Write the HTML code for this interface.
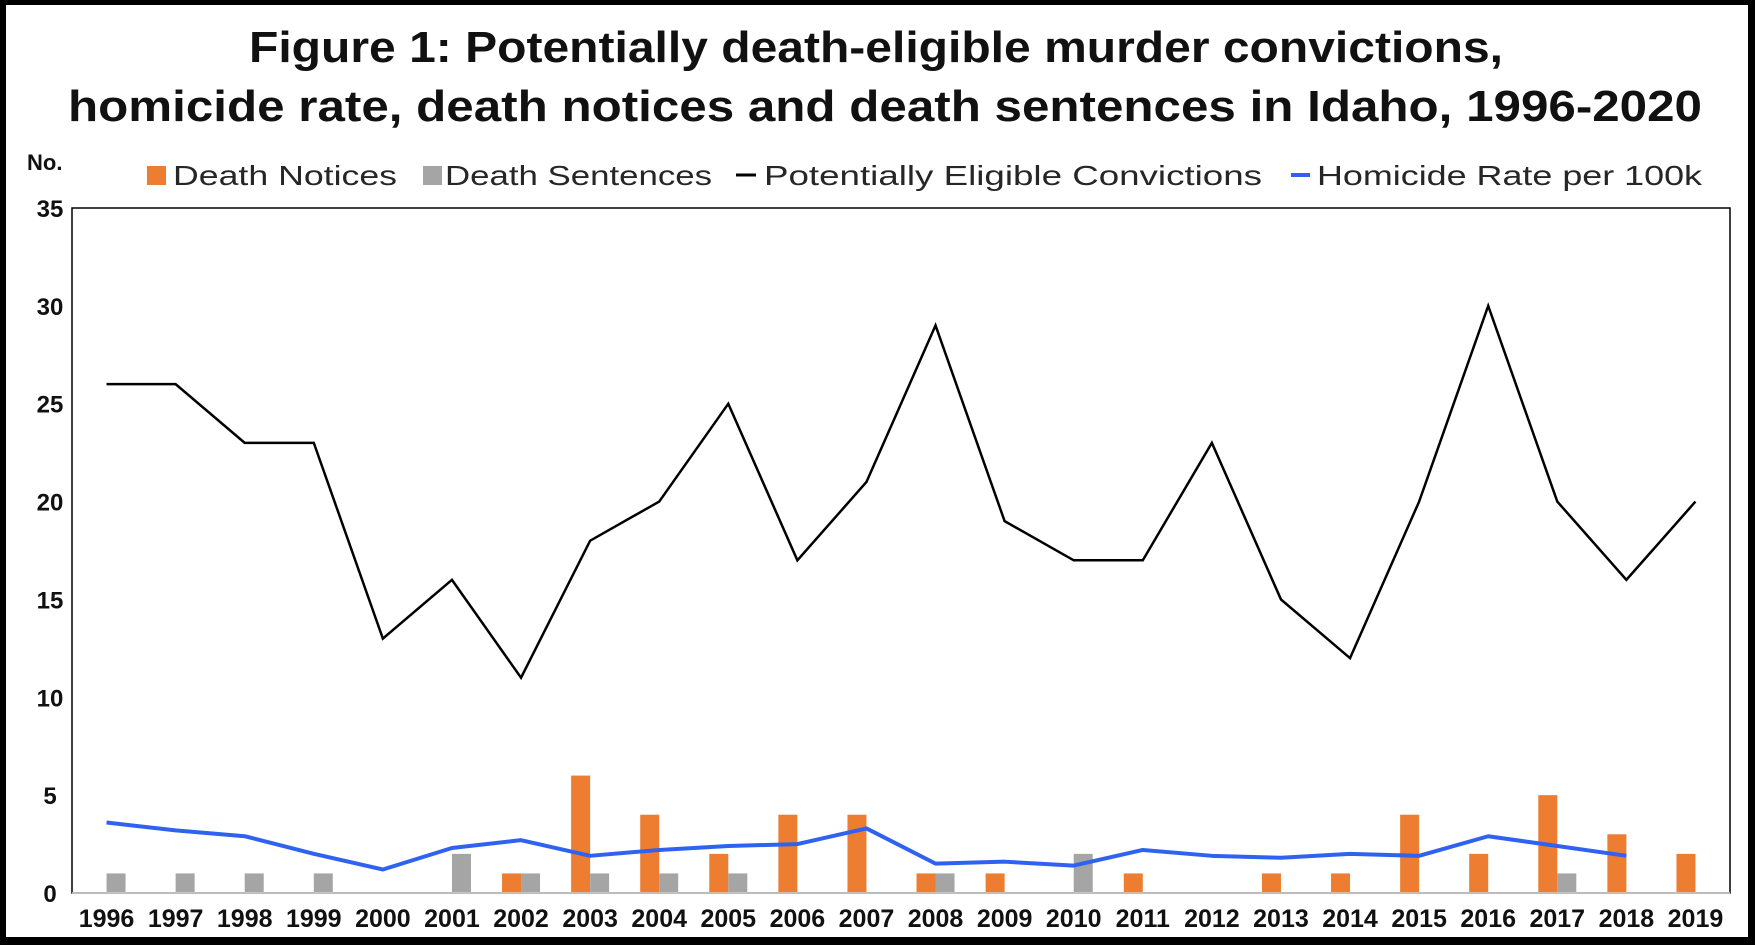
<!DOCTYPE html>
<html><head><meta charset="utf-8"><style>
body{margin:0;background:#000;}
svg{display:block;font-family:"Liberation Sans",sans-serif;}
</style></head><body>
<svg id="chart" width="1755" height="945">
<rect x="6" y="5" width="1742" height="932" fill="#fff"/>
<text x="876" y="62" text-anchor="middle" font-size="44" font-weight="bold" fill="#111" textLength="1254" lengthAdjust="spacingAndGlyphs">Figure 1: Potentially death-eligible murder convictions,</text>
<text x="885" y="121" text-anchor="middle" font-size="44" font-weight="bold" fill="#111" textLength="1634" lengthAdjust="spacingAndGlyphs">homicide rate, death notices and death sentences in Idaho, 1996-2020</text>
<text x="27" y="170" font-size="22" font-weight="bold" fill="#111">No.</text>
<g>
<rect x="147" y="166" width="19" height="19" fill="#ed7d31"/>
<text x="173" y="185" font-size="28" fill="#262626" textLength="224" lengthAdjust="spacingAndGlyphs">Death Notices</text>
<rect x="423" y="166" width="19" height="19" fill="#a5a5a5"/>
<text x="445" y="185" font-size="28" fill="#262626" textLength="267" lengthAdjust="spacingAndGlyphs">Death Sentences</text>
<line x1="736" y1="175" x2="756" y2="175" stroke="#000" stroke-width="3"/>
<text x="764" y="185" font-size="28" fill="#262626" textLength="498" lengthAdjust="spacingAndGlyphs">Potentially Eligible Convictions</text>
<line x1="1291" y1="175" x2="1310" y2="175" stroke="#2f62f0" stroke-width="4"/>
<text x="1317" y="185" font-size="28" fill="#262626" textLength="385" lengthAdjust="spacingAndGlyphs">Homicide Rate per 100k</text>
</g>
<rect x="72" y="208" width="1658" height="685" fill="none" stroke="#000" stroke-width="1.5"/>
<g id="marks"></g>
</svg>
<script>
const years=["1996","1997","1998","1999","2000","2001","2002","2003","2004","2005","2006","2007","2008","2009","2010","2011","2012","2013","2014","2015","2016","2017","2018","2019"];
const deathNotices=[0,0,0,0,0,0,1,6,4,2,4,4,1,1,0,1,0,1,1,4,2,5,3,2];
const deathSentences=[1,1,1,1,0,2,1,1,1,1,0,0,1,0,2,0,0,0,0,0,0,1,0,0];
const convictions=[26,26,23,23,13,16,11,18,20,25,17,21,29,19,17,17,23,15,12,20,30,20,16,20];
const homicideRate=[3.6,3.2,2.9,2.0,1.2,2.3,2.7,1.9,2.2,2.4,2.5,3.3,1.5,1.6,1.4,2.2,1.9,1.8,2.0,1.9,2.9,2.4,1.9,null];
const yTicks=[0,5,10,15,20,25,30,35];
const NS="http://www.w3.org/2000/svg";
const L=72,R=1730,T=208,B=893,yMax=35;
const band=(R-L)/years.length;
const xc=i=>L+band*(i+0.5);
const y=v=>B-(v/yMax)*(B-T);
const svg=document.getElementById('chart');
const g=document.getElementById('marks');
function mk(tag,attrs){const e=document.createElementNS(NS,tag);for(const k in attrs)e.setAttribute(k,attrs[k]);return e;}
yTicks.forEach(t=>{
  const tx=mk('text',{x:50,y:y(t)+9,'text-anchor':'middle','font-size':24,'font-weight':'bold',fill:'#111'});
  tx.textContent=t;
  
  
  svg.appendChild(tx);
});
years.forEach((yr,i)=>{
  const tx=mk('text',{x:xc(i),y:927,'text-anchor':'middle','font-size':25,'font-weight':'bold',fill:'#111'});
  tx.textContent=yr;
  
  
  svg.appendChild(tx);
  if(deathNotices[i]>0){
    const r=mk('rect',{x:xc(i)-19,y:y(deathNotices[i]),width:19,height:B-y(deathNotices[i]),fill:'#ed7d31'});
    
    
    g.appendChild(r);
  }
  if(deathSentences[i]>0){
    const r=mk('rect',{x:xc(i),y:y(deathSentences[i]),width:19,height:B-y(deathSentences[i]),fill:'#a5a5a5'});
    
    
    g.appendChild(r);
  }
});
const zl=mk('line',{x1:L,y1:B,x2:R,y2:B,stroke:'#d0d0d0','stroke-width':1.5});


g.appendChild(zl);
const hp=homicideRate.map((v,i)=>v==null?null:xc(i)+','+y(v)).filter(p=>p).join(' ');
const hl=mk('polyline',{points:hp,fill:'none',stroke:'#2f62f0','stroke-width':4,'stroke-linejoin':'round'});


g.appendChild(hl);
const cp=convictions.map((v,i)=>xc(i)+','+y(v)).join(' ');
const cl=mk('polyline',{points:cp,fill:'none',stroke:'#000','stroke-width':2.5});


g.appendChild(cl);
</script>
</body></html>
